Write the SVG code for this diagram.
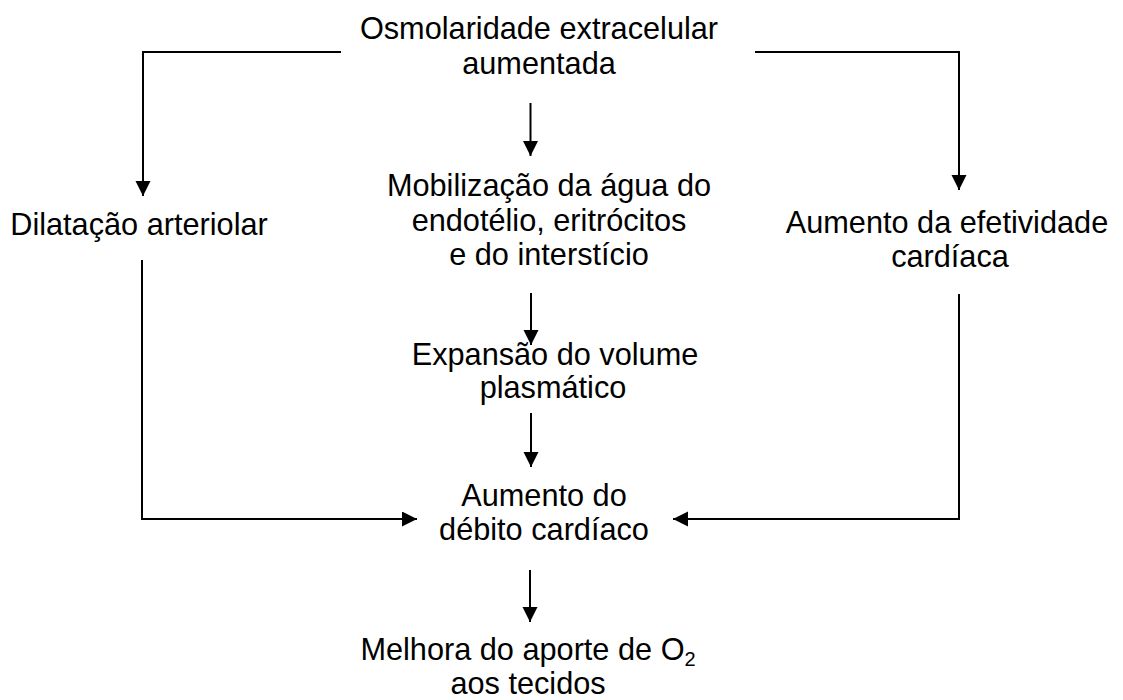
<svg xmlns="http://www.w3.org/2000/svg" width="1123" height="700" viewBox="0 0 1123 700">
<style>
text{font-family:"Liberation Sans",Arial,sans-serif;font-size:30.7px;fill:#000;text-anchor:middle}
.c{fill:none;stroke:#000;stroke-width:2}
</style>
<defs>
<marker id="ah" markerUnits="userSpaceOnUse" markerWidth="16" markerHeight="16" refX="15" refY="7.5" orient="auto">
<path d="M0,0 L15,7.5 L0,15 Z" fill="#000"/>
</marker>
</defs>
<rect width="1123" height="700" fill="#fff"/>
<g id="connectors">
<polyline class="c" points="341,52 143,52 143,196" marker-end="url(#ah)"/>
<polyline class="c" points="755,52 959,52 959,190" marker-end="url(#ah)"/>
<line class="c" x1="530.5" y1="103" x2="530.5" y2="156" marker-end="url(#ah)"/>
<line class="c" x1="531" y1="293" x2="531" y2="345" marker-end="url(#ah)"/>
<line class="c" x1="531" y1="413" x2="531" y2="467" marker-end="url(#ah)"/>
<polyline class="c" points="142,260 142,519 417,519" marker-end="url(#ah)"/>
<polyline class="c" points="959,294 959,519 673,519" marker-end="url(#ah)"/>
<line class="c" x1="530" y1="570" x2="530" y2="622" marker-end="url(#ah)"/>
</g>
<g id="n-osmolaridade"><text x="539" y="39">Osmolaridade extracelular</text><text x="539" y="73.5">aumentada</text></g>
<g id="n-mobilizacao"><text x="549" y="196">Mobilização da água do</text><text x="549" y="230.5">endotélio, eritrócitos</text><text x="549" y="264.5">e do interstício</text></g>
<g id="n-dilatacao"><text x="139" y="235">Dilatação arteriolar</text></g>
<g id="n-efetividade"><text x="947" y="233">Aumento da efetividade</text><text x="950" y="267">cardíaca</text></g>
<g id="n-expansao"><text x="555" y="365">Expansão do volume</text><text x="553" y="398">plasmático</text></g>
<g id="n-debito"><text x="544" y="506">Aumento do</text><text x="544" y="540">débito cardíaco</text></g>
<g id="n-melhora"><text x="528" y="660">Melhora do aporte de O<tspan font-size="20" dy="6">2</tspan></text><text x="528" y="694">aos tecidos</text></g>
</svg>
